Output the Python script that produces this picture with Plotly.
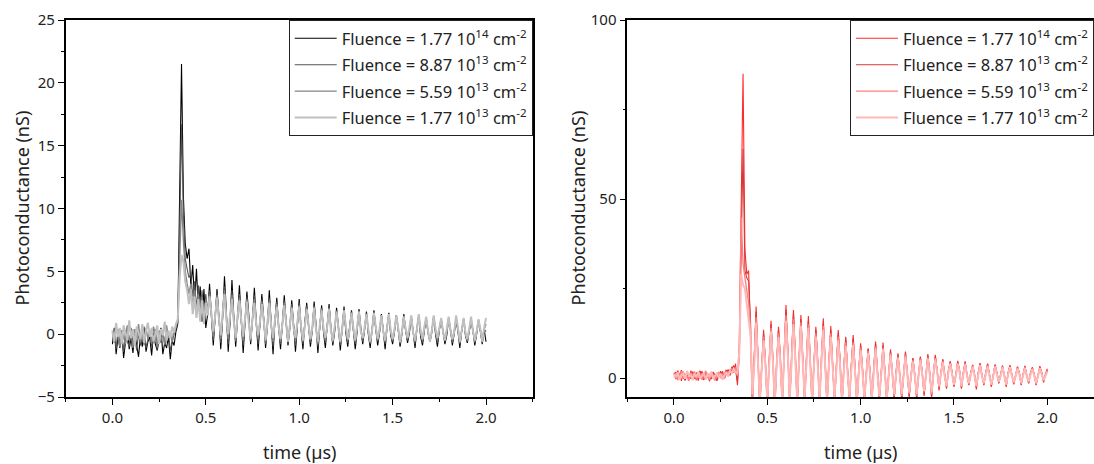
import plotly.graph_objects as go

FONT = "Noto Sans"

# sampling grid (µs), 0.00 ... 2.00
time_us = [round(i * 0.01, 2) for i in range(201)]

fluence_labels = [
    "Fluence = 1.77 10<sup>14</sup> cm<sup>-2</sup>",
    "Fluence = 8.87 10<sup>13</sup> cm<sup>-2</sup>",
    "Fluence = 5.59 10<sup>13</sup> cm<sup>-2</sup>",
    "Fluence = 1.77 10<sup>13</sup> cm<sup>-2</sup>",
]

# ---------------- left panel (nS) ----------------
left_f1 = [
    -0.8, 0.5, -1.6, -0.2, -1.1, 0.3, -1.9, -0.5, 0.6, -1.2,
    -0.3, -1.5, 0.2, -0.9, -1.8, -0.1, -1.0, 0.4, -1.4, -0.6,
    -0.2, -1.7, 0.1, -0.8, -1.3, -0.4, 0.5, -1.6, -0.7, -1.1,
    -0.2, -2.0, -0.5, -0.9, 0.2, 0.8, 9.5, 21.5, 11.0, 7.2,
    6.0, 6.8, 3.8, 5.5, 2.5, 5.2, 2.0, 3.8, 1.0, 3.6,
    0.5, 1.6, 4.0, 1.9, -0.9, 1.4, 3.6, 1.5, -1.2, 1.2,
    4.6, 1.8, -1.4, 1.0, 4.3, 1.4, -1.0, 1.3, 3.9, 1.1,
    -1.5, 0.9, 3.4, 1.6, -0.8, 1.2, 3.7, 1.0, -1.3, 0.8,
    3.2, 1.3, -1.1, 0.7, 3.5, 0.9, -1.6, 1.1, 2.9, 0.6,
    -1.2, 0.8, 3.1, 1.0, -0.9, 0.5, 2.7, 0.8, -1.4, 0.6,
    2.8, 0.4, -1.2, 0.9, 2.5, 0.7, -1.0, 0.3, 2.6, 0.8,
    -1.5, 0.5, 2.3, 0.2, -1.1, 0.7, 2.4, 0.5, -0.9, 0.2,
    2.1, 0.6, -1.3, 0.4, 2.2, 0.1, -1.0, 0.6, 1.9, 0.3,
    -1.2, 0.2, 2.0, 0.5, -0.8, 0.4, 1.8, 0.0, -1.1, 0.3,
    1.9, 0.4, -0.9, 0.1, 1.6, 0.3, -1.2, 0.5, 1.7, -0.1,
    -0.8, 0.2, 1.5, 0.4, -1.0, 0.0, 1.6, 0.3, -0.7, 0.1,
    1.4, 0.2, -1.1, 0.4, 1.5, -0.2, -0.9, 0.3, 1.3, 0.1,
    -0.6, 0.2, 1.4, 0.0, -1.0, 0.3, 1.2, 0.2, -0.8, -0.1,
    1.3, 0.4, -0.9, 0.1, 1.1, 0.2, -1.1, 0.3, 1.2, -0.1,
    -0.7, 0.2, 1.0, 0.3, -0.9, 0.0, 1.1, 0.2, -0.8, 0.4,
    -0.6,
]
left_f2 = [
    -0.5, 0.2, -1.2, 0.4, -0.8, -0.1, -1.4, 0.3, -0.6, -1.0,
    0.5, -0.7, -0.2, -1.3, 0.1, -0.9, -0.4, 0.6, -1.1, -0.3,
    0.2, -1.0, -0.5, 0.4, -1.2, -0.2, -0.7, 0.3, -0.9, -0.4,
    0.1, -1.3, -0.6, 0.0, 0.4, 1.0, 8.0, 16.7, 9.5, 6.0,
    5.2, 4.5, 4.8, 3.0, 4.2, 2.0, 3.9, 1.4, 3.5, 1.2,
    3.2, 1.6, 3.5, 1.8, -0.5, 1.3, 3.3, 1.4, -0.7, 1.4,
    3.8, 1.5, -0.8, 1.2, 3.5, 1.2, -0.6, 1.3, 3.2, 1.0,
    -0.9, 1.0, 3.0, 1.2, -0.6, 1.2, 3.1, 0.9, -0.8, 0.9,
    2.8, 1.2, -0.8, 0.8, 2.9, 0.8, -1.0, 1.0, 2.6, 0.6,
    -0.8, 0.8, 2.7, 0.9, -0.7, 0.6, 2.4, 0.7, -0.9, 0.7,
    2.5, 0.5, -0.8, 0.8, 2.3, 0.7, -0.7, 0.4, 2.3, 0.6,
    -1.0, 0.6, 2.1, 0.3, -0.7, 0.6, 2.2, 0.4, -0.7, 0.4,
    1.9, 0.5, -0.9, 0.4, 2.0, 0.3, -0.7, 0.5, 1.8, 0.4,
    -0.8, 0.4, 1.9, 0.3, -0.6, 0.4, 1.7, 0.2, -0.8, 0.3,
    1.8, 0.5, -0.6, 0.2, 1.5, 0.3, -0.8, 0.5, 1.6, 0.1,
    -0.6, 0.3, 1.5, 0.4, -0.8, 0.1, 1.5, 0.3, -0.5, 0.3,
    1.4, 0.2, -0.8, 0.4, 1.5, 0.0, -0.7, 0.4, 1.3, 0.1,
    -0.6, 0.2, 1.4, 0.2, -0.7, 0.4, 1.2, 0.2, -0.6, 0.1,
    1.3, 0.3, -0.7, 0.1, 1.2, 0.3, -0.8, 0.3, 1.2, 0.0,
    -0.6, 0.3, 1.1, 0.3, -0.7, 0.1, 1.1, 0.3, -0.7, 0.4,
    0.2,
]
left_f3 = [
    0.1, -0.7, 0.6, -0.4, -1.0, 0.3, -0.2, -0.8, 0.7, -0.5,
    0.0, -1.1, 0.4, -0.3, 0.8, -0.6, -0.1, -0.9, 0.5, -0.4,
    0.2, -0.7, 0.6, -0.2, -1.0, 0.3, -0.5, 0.1, -0.8, 0.7,
    -0.3, 0.0, -0.6, 0.4, 0.6, 1.1, 6.0, 10.7, 7.5, 5.0,
    4.0, 3.2, 4.0, 2.2, 3.5, 1.6, 3.2, 1.2, 3.0, 1.0,
    2.8, 1.5, 3.2, 1.7, -0.2, 1.4, 3.1, 1.3, -0.4, 1.5,
    3.5, 1.3, -0.4, 1.3, 3.1, 1.1, -0.5, 1.3, 2.9, 1.0,
    -0.5, 1.1, 2.8, 1.0, -0.5, 1.2, 2.8, 0.8, -0.4, 0.9,
    2.6, 1.1, -0.6, 0.8, 2.7, 0.7, -0.6, 1.0, 2.4, 0.6,
    -0.6, 0.8, 2.5, 0.9, -0.6, 0.6, 2.2, 0.6, -0.6, 0.8,
    2.3, 0.5, -0.6, 0.7, 2.1, 0.7, -0.5, 0.4, 2.2, 0.5,
    -0.8, 0.6, 2.0, 0.4, -0.5, 0.6, 2.1, 0.4, -0.6, 0.5,
    1.8, 0.5, -0.7, 0.4, 1.9, 0.4, -0.5, 0.4, 1.7, 0.4,
    -0.6, 0.5, 1.8, 0.3, -0.4, 0.4, 1.6, 0.3, -0.7, 0.3,
    1.7, 0.5, -0.5, 0.3, 1.5, 0.2, -0.6, 0.5, 1.6, 0.2,
    -0.5, 0.3, 1.5, 0.4, -0.7, 0.1, 1.4, 0.3, -0.4, 0.4,
    1.4, 0.1, -0.6, 0.4, 1.5, 0.2, -0.5, 0.5, 1.3, 0.1,
    -0.6, 0.2, 1.4, 0.3, -0.5, 0.4, 1.2, 0.2, -0.5, 0.3,
    1.3, 0.3, -0.5, 0.2, 1.3, 0.4, -0.7, 0.3, 1.2, 0.1,
    -0.5, 0.3, 1.2, 0.3, -0.6, 0.2, 1.1, 0.3, -0.6, 0.4,
    0.8,
]
left_f4 = [
    0.3, -0.6, 0.9, -0.2, 0.5, -0.8, 0.7, 0.1, -0.5, 1.1,
    -0.3, 0.4, -0.9, 0.6, 0.0, -0.4, 0.8, -0.7, 0.3, 0.9,
    -0.2, 0.5, -0.6, 0.2, 0.7, -0.8, 0.4, -0.1, 1.0, -0.5,
    0.3, -0.3, 0.6, 0.1, 0.8, 1.2, 4.5, 6.3, 5.8, 4.2,
    3.5, 2.4, 3.6, 1.6, 3.0, 1.3, 2.8, 1.0, 2.7, 0.8,
    2.5, 1.5, 3.0, 1.7, 0.2, 1.4, 2.9, 1.3, -0.1, 1.6,
    3.2, 1.2, 0.0, 1.5, 2.8, 1.0, -0.3, 1.4, 2.7, 1.1,
    -0.2, 1.2, 2.6, 0.9, -0.4, 1.3, 2.5, 0.8, -0.1, 1.0,
    2.4, 1.1, -0.5, 0.9, 2.5, 0.7, -0.3, 1.1, 2.2, 0.6,
    -0.4, 0.8, 2.3, 0.9, -0.6, 0.7, 2.1, 0.5, -0.3, 0.9,
    2.2, 0.6, -0.5, 0.6, 2.0, 0.8, -0.4, 0.5, 2.1, 0.4,
    -0.6, 0.7, 1.9, 0.5, -0.3, 0.6, 2.0, 0.3, -0.5, 0.6,
    1.8, 0.5, -0.6, 0.4, 1.9, 0.6, -0.4, 0.3, 1.7, 0.5,
    -0.5, 0.6, 1.8, 0.2, -0.3, 0.5, 1.6, 0.4, -0.6, 0.3,
    1.7, 0.6, -0.4, 0.4, 1.5, 0.2, -0.5, 0.5, 1.6, 0.3,
    -0.4, 0.4, 1.5, 0.5, -0.6, 0.2, 1.4, 0.4, -0.3, 0.5,
    1.5, 0.1, -0.5, 0.4, 1.6, 0.3, -0.4, 0.6, 1.4, 0.2,
    -0.6, 0.3, 1.5, 0.4, -0.3, 0.5, 1.3, 0.2, -0.5, 0.4,
    1.4, 0.3, -0.4, 0.2, 1.5, 0.5, -0.6, 0.3, 1.3, 0.1,
    -0.4, 0.4, 1.4, 0.3, -0.5, 0.2, 1.2, 0.4, -0.6, 0.5,
    1.3,
]

# ---------------- right panel (nS) ----------------
right_f1 = [
    1.5, -0.3, 2.1, 0.4, -0.8, 1.8, 0.2, 1.2, -0.5, 2.0,
    0.6, -0.2, 1.6, -0.7, 0.9, 1.9, -0.4, 0.5, 1.4, -0.9,
    0.8, 1.7, 0.0, -0.6, 1.1, 0.3, 1.9, -0.2, 1.3, 2.4,
    0.7, 3.2, 1.5, 4.0, -2.0, 8.5, 48.0, 85.0, 36.0, 29.0,
    30.0, 12.0, -7.0, 6.0, 20.0, 6.0, -8.0, 3.0, 13.5, 4.0,
    -8.0, 5.0, 16.0, 5.0, -9.0, 4.0, 14.3, 6.0, -8.0, 7.0,
    20.4, 8.0, -7.0, 6.0, 19.0, 7.0, -8.0, 5.0, 17.6, 6.0,
    -7.0, 6.0, 17.3, 5.0, -8.0, 4.0, 14.3, 5.0, -7.0, 6.0,
    16.7, 4.0, -8.0, 5.0, 14.5, 4.0, -7.0, 3.0, 13.4, 5.0,
    -8.0, 3.0, 11.5, 2.0, -7.0, 4.0, 12.0, 3.0, -8.0, 2.0,
    9.7, 3.0, -7.0, 1.0, 8.3, 2.0, -7.0, 3.0, 10.2, 2.0,
    -6.0, 1.0, 9.9, 2.0, -7.0, 1.0, 8.0, 1.0, -6.0, 2.0,
    6.9, 0.5, -6.0, 1.0, 7.4, 1.5, -5.5, 0.5, 5.6, 1.0,
    -6.0, 0.5, 6.0, 1.5, -5.0, 1.0, 6.7, 1.5, -5.5, 1.0,
    6.5, 2.0, -3.5, 1.5, 5.3, 1.0, -3.0, 2.0, 4.7, 1.5,
    -2.5, 1.0, 4.8, 2.0, -3.0, 1.5, 4.7, 0.5, -2.0, 1.5,
    3.7, 1.0, -3.2, 1.5, 4.2, 0.5, -2.0, 1.5, 4.0, 1.0,
    -2.5, 0.5, 3.8, 1.5, -1.5, 1.0, 3.5, 0.5, -2.5, 1.5,
    3.6, 1.0, -1.8, 0.5, 3.2, 1.5, -2.0, 1.0, 3.4, 0.5,
    -1.5, 1.5, 3.0, 1.0, -2.0, 0.5, 3.3, 1.5, -1.2, 1.0,
    2.6,
]
right_f2 = [
    0.9, 1.7, -0.4, 1.1, 2.2, 0.1, -0.7, 1.4, 0.6, -0.2,
    1.8, 0.8, -0.6, 1.3, 2.0, 0.2, -0.5, 1.6, 0.4, 1.0,
    -0.3, 1.5, 0.9, -0.8, 0.6, 1.9, 0.1, 1.2, 2.3, 0.5,
    1.6, 2.8, 3.5, 2.0, -1.0, 6.0, 40.0, 64.0, 30.0, 28.0,
    27.0, 16.0, -6.5, 5.0, 18.5, 5.5, -8.0, 3.5, 12.5, 4.5,
    -7.5, 4.5, 15.0, 5.5, -8.5, 4.5, 13.5, 5.5, -7.5, 6.5,
    19.0, 7.5, -7.0, 5.5, 18.0, 6.5, -7.5, 5.5, 16.5, 5.5,
    -6.5, 5.5, 16.0, 5.0, -7.5, 4.5, 13.5, 4.5, -7.0, 5.5,
    15.5, 4.5, -7.5, 4.5, 13.5, 4.0, -6.5, 3.5, 12.5, 4.5,
    -7.5, 3.0, 11.0, 2.5, -6.5, 3.5, 11.0, 3.0, -7.5, 2.5,
    9.0, 2.5, -6.5, 1.5, 8.0, 2.0, -6.5, 2.5, 9.5, 2.0,
    -6.0, 1.5, 9.0, 2.0, -6.5, 1.0, 7.5, 1.5, -5.5, 1.5,
    6.5, 1.0, -5.5, 1.0, 7.0, 1.5, -5.0, 1.0, 5.5, 1.0,
    -5.5, 1.0, 5.8, 1.5, -4.5, 1.0, 6.2, 1.5, -5.0, 1.5,
    6.0, 2.0, -3.0, 1.5, 5.0, 1.0, -2.8, 2.0, 4.5, 1.5,
    -2.2, 1.0, 4.5, 2.0, -2.8, 1.5, 4.4, 1.0, -1.8, 1.5,
    3.6, 1.0, -2.8, 1.5, 4.0, 0.8, -1.8, 1.5, 3.8, 1.0,
    -2.2, 0.8, 3.6, 1.5, -1.4, 1.0, 3.4, 0.8, -2.2, 1.5,
    3.4, 1.0, -1.6, 0.8, 3.1, 1.5, -1.8, 1.0, 3.2, 0.8,
    -1.4, 1.5, 2.9, 1.0, -1.8, 0.8, 3.1, 1.5, -1.0, 1.0,
    2.2,
]
right_f3 = [
    0.4, 1.3, -0.6, 0.8, 1.9, -0.1, 1.0, 0.3, -0.8, 1.5,
    0.7, 1.8, -0.3, 0.5, 1.2, -0.5, 0.9, 2.0, 0.2, -0.4,
    1.4, 0.6, -0.7, 1.1, 1.7, 0.0, 0.8, -0.2, 1.6, 1.0,
    2.2, 2.6, 1.8, 3.0, 0.5, 9.0, 45.0, 32.0, 28.0, 24.0,
    21.0, 14.0, -5.5, 4.0, 17.0, 5.0, -7.0, 3.0, 11.5, 4.0,
    -7.0, 4.0, 14.0, 5.0, -8.0, 4.0, 12.5, 5.0, -7.0, 6.0,
    17.5, 7.0, -6.5, 5.0, 16.5, 6.0, -7.0, 5.0, 15.5, 5.0,
    -6.0, 5.0, 15.0, 4.5, -7.0, 4.0, 12.5, 4.0, -6.5, 5.0,
    14.5, 4.0, -7.0, 4.0, 12.5, 3.5, -6.0, 3.0, 11.5, 4.0,
    -7.0, 2.5, 10.0, 2.0, -6.0, 3.0, 10.0, 2.5, -7.0, 2.0,
    8.5, 2.0, -6.0, 1.0, 7.5, 1.5, -6.0, 2.0, 8.8, 1.5,
    -5.5, 1.0, 8.5, 1.5, -6.0, 0.8, 7.0, 1.2, -5.0, 1.2,
    6.0, 0.8, -5.0, 0.8, 6.5, 1.2, -4.5, 0.8, 5.0, 0.8,
    -5.0, 0.8, 5.4, 1.2, -4.0, 0.8, 5.8, 1.2, -4.5, 1.2,
    5.6, 1.8, -2.6, 1.2, 4.7, 0.8, -2.5, 1.8, 4.2, 1.2,
    -2.0, 0.8, 4.2, 1.8, -2.5, 1.2, 4.1, 0.8, -1.6, 1.2,
    3.4, 0.8, -2.5, 1.2, 3.7, 0.6, -1.6, 1.2, 3.5, 0.8,
    -2.0, 0.6, 3.4, 1.2, -1.2, 0.8, 3.2, 0.6, -2.0, 1.2,
    3.2, 0.8, -1.4, 0.6, 2.9, 1.2, -1.6, 0.8, 3.0, 0.6,
    -1.2, 1.2, 2.7, 0.8, -1.6, 0.6, 2.9, 1.2, -0.8, 0.8,
    2.0,
]
right_f4 = [
    1.1, 0.2, 1.6, -0.5, 0.7, 1.3, -0.2, 2.0, 0.5, 0.9,
    -0.6, 1.2, 0.3, 1.7, -0.1, 0.6, 1.4, -0.4, 1.0, 0.4,
    1.8, -0.3, 0.8, 1.5, 0.1, 1.2, -0.5, 0.9, 1.7, 0.6,
    2.0, 1.4, 2.5, 1.6, 1.2, 7.0, 29.0, 26.0, 25.0, 20.0,
    17.0, 12.0, -4.5, 3.5, 15.5, 4.5, -6.5, 2.5, 10.5, 3.5,
    -6.5, 3.5, 13.0, 4.5, -7.0, 3.5, 11.5, 4.5, -6.5, 5.5,
    16.0, 6.5, -6.0, 4.5, 15.0, 5.5, -6.5, 4.5, 14.5, 4.5,
    -5.5, 4.5, 14.0, 4.0, -6.5, 3.5, 11.5, 3.5, -6.0, 4.5,
    13.5, 3.5, -6.5, 3.5, 11.5, 3.0, -5.5, 2.5, 10.5, 3.5,
    -6.5, 2.0, 9.0, 1.5, -5.5, 2.5, 9.2, 2.0, -6.5, 1.5,
    7.8, 1.5, -5.5, 0.8, 7.0, 1.2, -5.5, 1.5, 8.2, 1.2,
    -5.0, 0.8, 8.0, 1.2, -5.5, 0.6, 6.5, 1.0, -4.5, 1.0,
    5.6, 0.6, -4.5, 0.6, 6.0, 1.0, -4.0, 0.6, 4.6, 0.6,
    -4.5, 0.6, 5.0, 1.0, -3.6, 0.6, 5.4, 1.0, -4.0, 1.0,
    5.2, 1.6, -2.2, 1.0, 4.4, 0.6, -2.2, 1.6, 3.9, 1.0,
    -1.8, 0.6, 3.9, 1.6, -2.2, 1.0, 3.8, 0.6, -1.4, 1.0,
    3.2, 0.6, -2.2, 1.0, 3.5, 0.5, -1.4, 1.0, 3.3, 0.6,
    -1.8, 0.5, 3.2, 1.0, -1.0, 0.6, 3.0, 0.5, -1.8, 1.0,
    3.0, 0.6, -1.2, 0.5, 2.7, 1.0, -1.4, 0.6, 2.8, 0.5,
    -1.0, 1.0, 2.5, 0.6, -1.4, 0.5, 2.7, 1.0, -0.6, 0.6,
    1.8,
]

left_series = [left_f1, left_f2, left_f3, left_f4]
right_series = [right_f1, right_f2, right_f3, right_f4]
left_colors = ["#000000", "#555555", "#858585", "#c0c0c0"]
right_colors = ["#ff2a2a", "#d33a3a", "#ff8080", "#ffb8b8"]
line_widths = [1.1, 1.1, 1.4, 2.0]

for s in left_series + right_series:
    assert len(s) == len(time_us), len(s)

fig = go.Figure()
for i, (vals, col, lab) in enumerate(zip(left_series, left_colors, fluence_labels)):
    fig.add_trace(go.Scatter(x=time_us, y=vals, mode="lines", name=lab,
                             line=dict(color=col, width=line_widths[i]),
                             xaxis="x", yaxis="y", legend="legend",
                             legendgroup=f"L{i}"))
for i, (vals, col, lab) in enumerate(zip(right_series, right_colors, fluence_labels)):
    fig.add_trace(go.Scatter(x=time_us, y=vals, mode="lines", name=lab,
                             line=dict(color=col, width=line_widths[i]),
                             xaxis="x2", yaxis="y2", legend="legend2",
                             legendgroup=f"R{i}"))

W, H = 1094, 464
L1, R1 = 65.7, 532.7
L2, R2 = 627.3, 1094.0

tickfont = dict(family=FONT, size=15, color="#222222")
common_ax = dict(showline=True, linecolor="black", linewidth=1.6,
                 ticks="outside", ticklen=6, tickwidth=1.4, tickcolor="black",
                 showgrid=False, zeroline=False, tickfont=tickfont)
minor = dict(ticks="outside", ticklen=3, tickwidth=1.4, tickcolor="black", showgrid=False)

legend_common = dict(y=1, yanchor="top", xanchor="right", bgcolor="white",
                     bordercolor="#222222", borderwidth=1,
                     font=dict(family=FONT, size=16.5, color="#222222"),
                     tracegroupgap=2, itemwidth=42)

fig.update_layout(
    width=W, height=H,
    margin=dict(l=0, r=0, t=20, b=67),
    paper_bgcolor="white", plot_bgcolor="white",
    font=dict(family=FONT, color="#222222"),
    xaxis=dict(domain=[L1 / W, R1 / W], range=[-0.25, 2.25], anchor="y",
               tick0=0, dtick=0.5, tickformat=".1f", mirror=True,
               minor=dict(dtick=0.25, **minor), **common_ax),
    yaxis=dict(domain=[0, 1], range=[-5, 25], anchor="x",
               tick0=0, dtick=5, mirror=True,
               minor=dict(dtick=2.5, **minor), **common_ax),
    xaxis2=dict(domain=[L2 / W, R2 / W], range=[-0.25, 2.25], anchor="y2",
                tick0=0, dtick=0.5, tickformat=".1f", mirror=True,
                minor=dict(dtick=0.25, **minor), **common_ax),
    yaxis2=dict(domain=[0, 1], range=[-5.3, 100], anchor="x2",
                tick0=0, dtick=50, mirror=False,
                minor=dict(dtick=25, **minor), **common_ax),
    legend=dict(x=R1 / W, **legend_common),
    legend2=dict(x=R2 / W, **legend_common),
    showlegend=True,
)

plot_h = H - 20 - 67
title_font = dict(family=FONT, size=18, color="#222222")
for xc in [(L1 + R1) / 2, (L2 + R2) / 2]:
    fig.add_annotation(text="time (µs)", xref="paper", yref="paper",
                       x=xc / W, y=(397 - 452) / plot_h,
                       xanchor="center", yanchor="middle",
                       showarrow=False, font=title_font)
for xc in [21, 577]:
    fig.add_annotation(text="Photoconductance (nS)", xref="paper", yref="paper",
                       x=xc / W, y=0.5, textangle=-90,
                       xanchor="center", yanchor="middle",
                       showarrow=False, font=title_font)

fig.write_html("out.html")
